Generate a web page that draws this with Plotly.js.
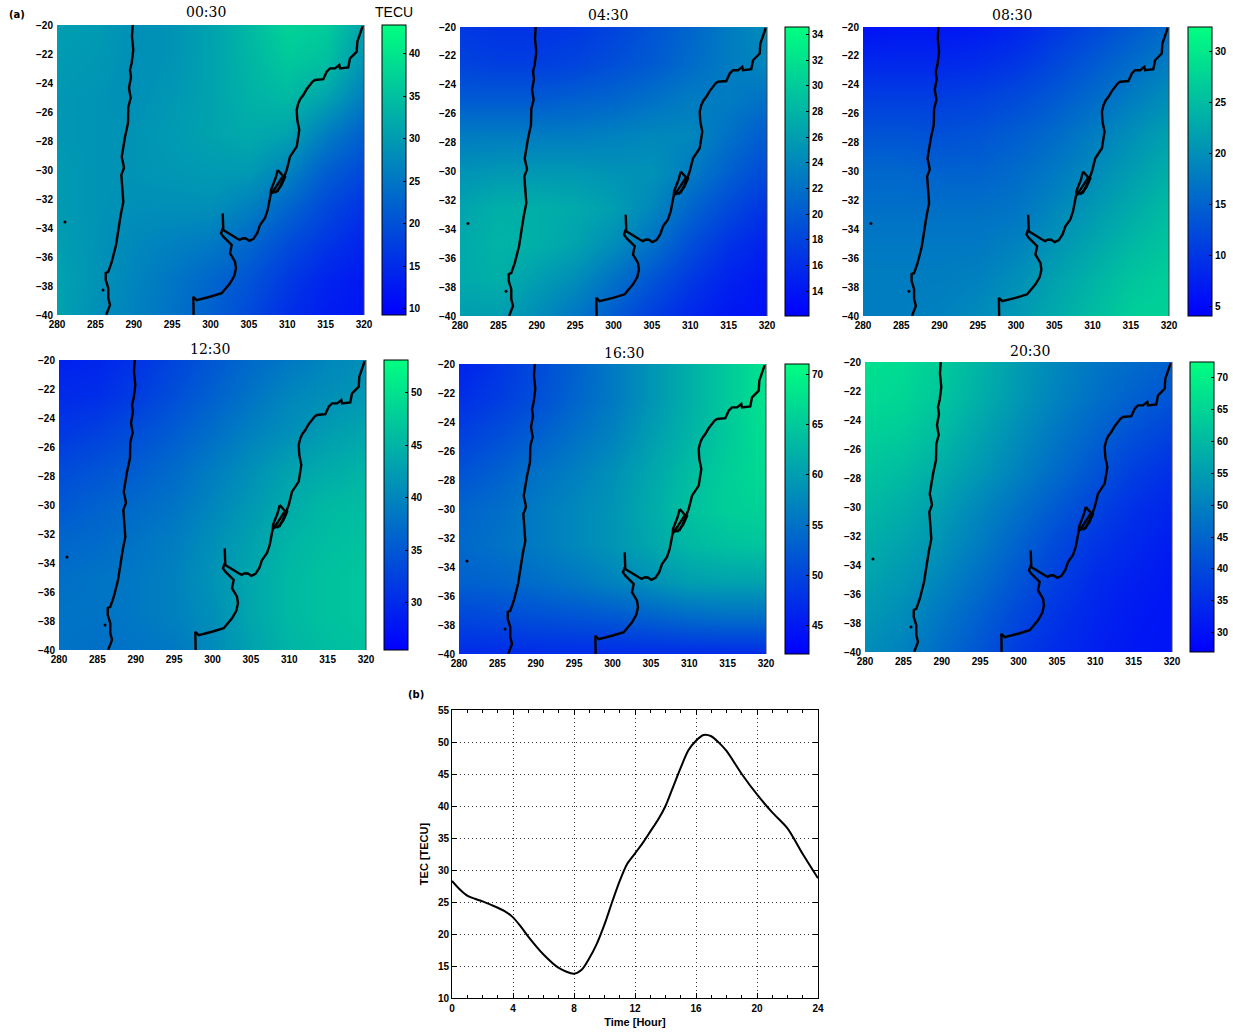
<!DOCTYPE html>
<html><head><meta charset="utf-8"><script src="https://cdn.plot.ly/plotly-3.0.1.min.js"></script>
<style>html,body{margin:0;padding:0;background:#fff}</style></head><body><div id="g" style="width:1233px;height:1033px"></div>
<script>
const lons=[280,285,290,295,300,305,310,315,320];
const latsTopFirst=[-20,-22.5,-25,-27.5,-30,-32.5,-35,-37.5,-40];
const z0030=[[30.5,30,28.5,29,31,34,37.5,36.5,31],[30,29.5,28.5,29,31,33.5,36,35,29],[29.5,29,28.5,29.5,31,33,34,31,26],[29.5,29,29,30,31,32,31,26,22],[30,29,29,29.5,30,30,27,22,19],[30,29,28.5,28.5,28.5,26.5,23,19,16],[30.5,29,27.5,26.5,25.5,23,19.5,16.5,14],[31,29,27,25,23,20.5,17,14,12.5],[31,28.5,26.5,24.5,22,19,15.5,13,12]];
const z0430=[[17,16.5,16.5,17,18,19.5,21,23,24.5],[18,17.5,17.5,18,19,20,21.5,23,24],[20,20,20,20.5,21,22,23,23,22],[23,23,23,23,23.5,24,24,22,20],[25,25.5,25.5,25.5,25,25,23,20.5,18.5],[26.5,27.5,27.5,27,26,24,21,18.5,16.5],[27,28,27.5,26.5,24.5,22,19,16.5,15],[27,27.5,26,24.5,22,19.5,17,15,14],[26,26,24.5,22.5,20,17.5,15.5,14,13.5]];
const z0830=[[6,6.5,6.5,7,8,10,12,14,16],[8.5,8.5,8.5,9,10,12,14,16,18],[11,11,11,11.5,12.5,14,16,18,20],[13.5,13.5,13,13.5,14.5,16,18,20,22],[15.5,15.5,15,15,16,17.5,19.5,21.5,23.5],[16.5,16.5,16.5,16.5,17,19,21,23,25],[17.5,17.5,17.5,17.5,18.5,20.5,22.5,24.5,26],[18,18,18,18.5,20,22,24,26,27],[18,18,18.5,19.5,21,23,25,27,27.5]];
const z1230=[[29,29.5,31,33,35,37,38.5,40,41],[30,30.5,32,34,36,38,40,41,42],[31.5,32.5,34,35.5,37.5,39.5,41,42.5,43.5],[33.5,34.5,35.5,37,39,41,43,44,45],[35,36,37,38,40,42,44,45.5,46],[36.5,37,38,39,41,43,45,46,46.5],[37.5,38,38.5,39.5,41.5,43.5,45.5,46.5,47],[38,38,38.5,39.5,41,43.5,45.5,46.5,47],[38,37.5,38,38.5,40.5,43,45,46,46.5]];
const z1630=[[46,48,50.5,53,56,59,62,65,68],[47.5,49,51,53.5,56,59,62,65,68],[49.5,51,53,55,57,60,62.5,65,67.5],[51.5,53,55,56.5,58.5,61,63.5,65.5,67],[53.5,54.5,56,57.5,59,61.5,64,65.5,66],[54,55,56,57.5,59,61,63,64,64.5],[53,53.5,54.5,55.5,57,58.5,60,60.5,60.5],[50,50.5,51,51.5,52,53,54,54.5,54.5],[47,47,47,47,47,47,47,47,47]];
const z2030=[[67,66,63,59,54.5,51,48,46,44],[66,65,62,58,54,50,47,44,42],[64,63,60,56,52,48,44.5,41,38.5],[62,60.5,57.5,54,50,46,42,38,35.5],[60,58,55,51,47,43,39,35.5,33.5],[58,56,53,49,44.5,40,36.5,34,32],[56,54,50.5,46.5,42,38,34.5,32.5,31],[54,52,48,44,39.5,36,33.5,31.5,30.5],[52,50,46,42,37.5,34.5,32.5,31,30.5]];

const westLon=[289.86,289.77,289.94,289.73,289.51,289.64,289.38,289.6,289.29,289.25,288.86,288.64,288.43,288.64,288.73,288.38,288.51,288.64,288.3,288.12,287.69,287.13,286.68,286.35,286.35,286.68,286.68,286.91,286.48,286.4];
const westLat=[-20,-20.8,-21.72,-22.62,-23.1,-23.59,-24.34,-25.03,-25.66,-26.76,-27.72,-28.62,-29.1,-29.6,-29.86,-30.34,-31.24,-32.2,-33.1,-33.79,-35.17,-36.34,-37.03,-37.1,-37.59,-38.14,-38.83,-39.31,-39.86,-40];
const eastLon=[319.83,319.48,319.13,319.05,318.18,317.95,316.87,316.78,316.23,315.57,315.14,314.7,313.62,313.3,312.96,312.5,312.09,311.7,311.44,311.23,311.31,311.57,311.23,310.8,310.36,309.93,309.45,308.76,307.88,307.75,307.45,307.1,306.45,306.1,305.6,305.06,304.6,304.2,303.8,303.41,302.76,301.67,301.59];
const eastLat=[-20.07,-20.57,-21.15,-21.84,-22.3,-22.92,-22.99,-22.76,-22.99,-22.99,-23.22,-23.74,-23.79,-23.9,-24.14,-24.45,-24.83,-25.1,-25.4,-25.86,-26.55,-27.24,-28.39,-28.75,-29.08,-30,-30.69,-31.45,-31.59,-31.93,-32.76,-33.31,-33.79,-34.34,-34.75,-34.88,-34.72,-34.71,-34.82,-34.71,-34.48,-34.14,-32.99];
const plataLon=[301.59,301.37,301.67,302.2,302.76,302.54,303.19,303.32,303.1,302.54,301.46,299.93,298.2,297.76,297.85,297.8];
const plataLat=[-34,-34.37,-34.6,-34.85,-35.17,-35.74,-36.32,-36.78,-37.3,-37.81,-38.5,-38.74,-38.97,-38.74,-39.77,-40];
const lagoonLon=[308.76,308.49,307.88,307.88,308.53,309.06,309.45,308.76,309.45,309.71,309.19,308.41];
const lagoonLat=[-30,-30.55,-31.38,-31.66,-31.17,-30.69,-30.41,-30,-30.41,-30.48,-31.1,-31.59];
const islandLon=[281.04,286];
const islandLat=[-33.59,-38.28];

const hours=[0,0.5,1,1.5,2,3,3.5,4,4.5,5,6,7,8,8.5,9,9.5,10,10.5,11,11.5,12,12.5,13,13.5,14,14.5,15,15.5,16,16.5,17,17.5,18,19,20,21,22,23,24];
const tec=[28.3,27,26,25.5,25.1,24.1,23.5,22.6,21.2,19.6,16.8,14.7,13.8,14.4,16.2,18.5,21.5,25,28.3,31,32.6,34.2,36,37.8,40,43,46,48.7,50.2,51.1,50.9,49.9,48.6,45,41.8,39,36.5,32.5,28.7];

const panelTitles=['00:30','04:30','08:30','12:30','16:30','20:30'];
const panelData=[z0030,z0430,z0830,z1230,z1630,z2030];
const panelRanges=[[9.26,43.4],[12.05,34.6],[4.1,32.45],[25.5,53.1],[42.2,71],[27,72.4]];
const panelTicks=[[10,15,20,25,30,35,40],[14,16,18,20,22,24,26,28,30,32,34],[5,10,15,20,25,30],[30,35,40,45,50],[45,50,55,60,65,70],[30,35,40,45,50,55,60,65,70]];
const panelBoxes=[[57,364,25,315,382,206,12],[460,767,27,316,785,608,15],[863,1169,27,316,1188,1012,15],[59,366,360,650,384,210,349],[459,766,364,654,785,624,353],[865,1172,362,652,1190,1030,351]];

const W=1233,H=1033;
const winter=[[0,'rgb(0,0,255)'],[1,'rgb(0,255,128)']];
const tf={family:'Liberation Sans',size:10,color:'#000',weight:700};
const latsAsc=latsTopFirst.slice().reverse();
const coastX=[...westLon,null,...eastLon,null,...plataLon,null,...lagoonLon];
const coastY=[...westLat,null,...eastLat,null,...plataLat,null,...lagoonLat];
const traces=[],annotations=[],shapes=[];
const layout={width:W,height:H,margin:{l:0,r:0,t:0,b:0},paper_bgcolor:'#fff',plot_bgcolor:'#fff',showlegend:false,autosize:false};

panelBoxes.forEach((b,i)=>{
  const n=i+1,xa='x'+(n===1?'':n),ya='y'+(n===1?'':n);
  layout['xaxis'+(n===1?'':n)]={domain:[b[0]/W,b[1]/W],range:[280,320],dtick:5,tick0:280,ticks:'',showgrid:false,zeroline:false,showline:false,anchor:ya,tickfont:tf,ticklabelstandoff:2};
  layout['yaxis'+(n===1?'':n)]={domain:[1-b[3]/H,1-b[2]/H],range:[-40,-20],dtick:2,tick0:-40,ticks:'',showgrid:false,zeroline:false,showline:false,anchor:xa,tickfont:tf,ticklabelstandoff:3,tickformat:'d'};
  traces.push({type:'heatmap',x:lons,y:latsAsc,z:panelData[i].slice().reverse(),xaxis:xa,yaxis:ya,zsmooth:'best',colorscale:winter,zmin:panelRanges[i][0],zmax:panelRanges[i][1],hoverinfo:'skip',
    colorbar:{x:b[4]/W,xanchor:'left',xpad:0,y:1-b[2]/H,yanchor:'top',ypad:0,lenmode:'pixels',len:b[3]-b[2],thicknessmode:'pixels',thickness:24,outlinecolor:'#000',outlinewidth:1,borderwidth:0,ticks:'inside',ticklen:3,tickcolor:'#000',tickwidth:1,tickvals:panelTicks[i],ticktext:panelTicks[i].map(String),tickfont:tf}});
  traces.push({type:'scatter',mode:'lines',x:coastX,y:coastY,xaxis:xa,yaxis:ya,line:{color:'#000',width:2.4},hoverinfo:'skip'});
  traces.push({type:'scatter',mode:'markers',x:islandLon,y:islandLat,xaxis:xa,yaxis:ya,marker:{color:'#000',size:3},hoverinfo:'skip'});
  annotations.push({xref:'paper',yref:'paper',x:b[5]/W,y:1-b[6]/H,xanchor:'center',yanchor:'middle',text:panelTitles[i],showarrow:false,font:{family:'DejaVu Serif',size:14,color:'#000'}});
  shapes.push({type:'line',xref:xa+' domain',yref:ya+' domain',x0:1,x1:1,y0:0,y1:1,line:{color:'#444',width:1}});
});
layout.xaxis7={domain:[452/W,818/W],range:[0,24],tickvals:[0,4,8,12,16,20,24],ticks:'inside',ticklen:5,tickcolor:'#000',mirror:'allticks',showline:true,linecolor:'#000',linewidth:1,showgrid:true,griddash:'1px,3px',gridcolor:'#333',gridwidth:1,zeroline:false,anchor:'y7',tickfont:tf,ticklabelstandoff:1,title:{text:'Time [Hour]',font:{family:'Liberation Sans',size:11,color:'#000',weight:700},standoff:5},minor:{dtick:1,tick0:0,ticks:'inside',ticklen:3,tickcolor:'#000',showgrid:false}};
layout.yaxis7={domain:[1-998/H,1-710/H],range:[10,55],dtick:5,tick0:10,ticks:'inside',ticklen:5,tickcolor:'#000',mirror:'allticks',showline:true,linecolor:'#000',linewidth:1,showgrid:true,griddash:'1px,3px',gridcolor:'#333',gridwidth:1,zeroline:false,anchor:'x7',tickfont:tf,title:{text:'TEC [TECU]',font:{family:'Liberation Sans',size:11,color:'#000',weight:700},standoff:7}};
traces.push({type:'scatter',mode:'lines',x:hours,y:tec,xaxis:'x7',yaxis:'y7',line:{color:'#000',width:2,shape:'spline',smoothing:0.8},hoverinfo:'skip'});
annotations.push({xref:'paper',yref:'paper',x:394/W,y:1-12/H,xanchor:'center',yanchor:'middle',text:'TECU',showarrow:false,font:{family:'Liberation Sans',size:14,color:'#000'}});
annotations.push({xref:'paper',yref:'paper',x:17/W,y:1-15/H,xanchor:'center',yanchor:'middle',text:'(a)',showarrow:false,font:{family:'DejaVu Sans',size:10,color:'#000',weight:700}});
annotations.push({xref:'paper',yref:'paper',x:416/W,y:1-694/H,xanchor:'center',yanchor:'middle',text:'(b)',showarrow:false,font:{family:'DejaVu Sans',size:10,color:'#000',weight:700}});
layout.annotations=annotations;layout.shapes=shapes;
Plotly.newPlot('g',traces,layout,{displayModeBar:false,staticPlot:true});
</script></body></html>
